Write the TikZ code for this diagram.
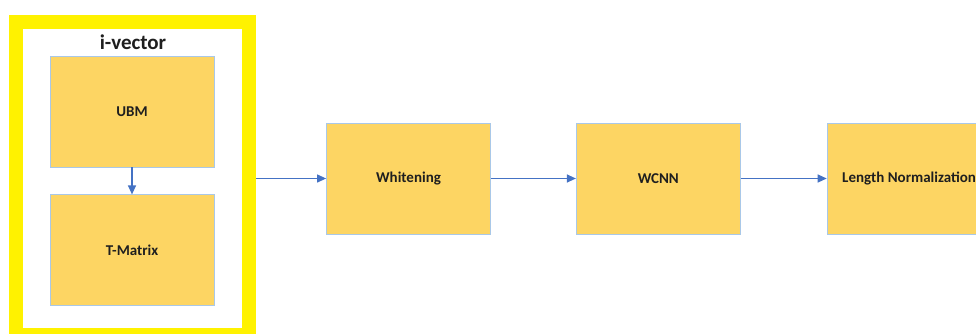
\documentclass[tikz,border=0pt]{standalone}
\usepackage{fontspec}
\setmainfont{Carlito}
\usetikzlibrary{positioning,arrows.meta}
\definecolor{boxfill}{HTML}{FDD563}
\definecolor{boxline}{HTML}{A9C8E8}
\definecolor{linkblue}{HTML}{4472C4}
\definecolor{textgray}{HTML}{1F1F1F}
\tikzset{
  block/.style={draw=boxline, fill=boxfill, line width=0.8pt, inner sep=0pt,
    minimum width=164pt, minimum height=111pt, text=textgray,
    font=\bfseries\fontsize{15}{17}\selectfont},
  link/.style={draw=linkblue, line width=1.2pt, -{Triangle[length=9pt,width=8pt]}},
}

\begin{document}
\begin{tikzpicture}[x=1pt, y=-1pt]
		%%%%% START %%%%%
		\useasboundingbox (0,0) rectangle (976,334);
		\clip (0,0) rectangle (976,334);
		
		% yellow frame round the i-vector part
		\node (frame) [draw=yellow, fill=white, line width=14pt, inner sep=0pt,
		  minimum width=233.5pt, minimum height=313pt] at (132.25,178.5) {};
		\node (ivec) [font=\bfseries\fontsize{21}{23}\selectfont, text=textgray] at (133,42) {i-vector};
		
		\node (ubm) [block] at (132,111.5) {UBM};
		\node (tmat) [block, below=27pt of ubm] {T-Matrix};
		\draw[link] (ubm) -- (tmat);
		
		\node (white) [block] at (408.5,178.5) {Whitening};
		\node (wcnn) [block, right=85pt of white] {WCNN};
		\node (lnorm) [block, right=86pt of wcnn] {Length Normalization};
		
		\draw[link] (white.west -| frame.east) -- (white);
		\draw[link] (white) -- (wcnn);
		\draw[link] (wcnn) -- (lnorm);
		%%%%% END %%%%%
	\end{tikzpicture}
\end{document}
